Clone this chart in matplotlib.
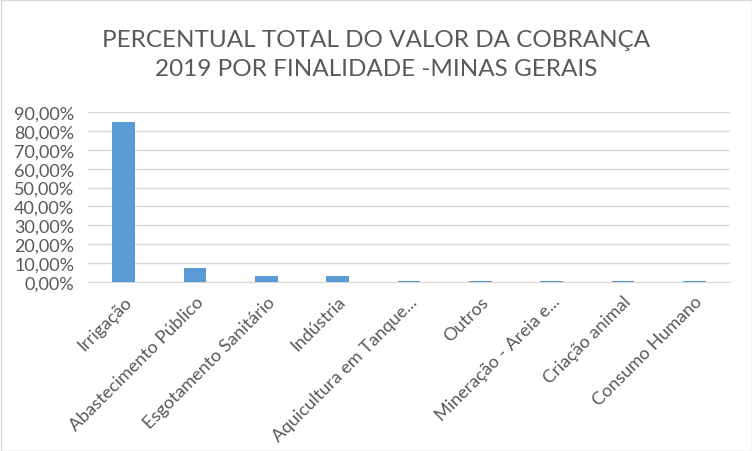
import matplotlib.pyplot as plt
from matplotlib.patches import Rectangle
from matplotlib.ticker import FuncFormatter

# --- Data ---
categorias = ["Irrigação", "Abastecimento Público", "Esgotamento Sanitário",
              "Indústria", "Aquicultura em Tanque...", "Outros",
              "Mineração - Areia e...", "Criação animal", "Consumo Humano"]
percentuais = [84.7, 7.4, 3.2, 3.2, 0.3, 0.3, 0.3, 0.3, 0.3]
y_ticks = [0, 10, 20, 30, 40, 50, 60, 70, 80, 90]

titulo = "PERCENTUAL TOTAL DO VALOR DA COBRANÇA\n2019 POR FINALIDADE -MINAS GERAIS"

cinza = "#595959"
plt.rcParams['font.family'] = ['Lato', 'DejaVu Sans']

fig = plt.figure(figsize=(7.52, 4.52), dpi=100)
ax = fig.add_axes([88 / 752, 1 - 283 / 452, (730 - 88) / 752, (283 - 113) / 452])

x = range(len(categorias))
ax.bar(x, percentuais, width=0.32, color="#5b9bd5", zorder=3)

ax.set_xlim(-0.5, len(categorias) - 0.5)
ax.set_ylim(0, 90)
ax.set_yticks(y_ticks)
ax.yaxis.set_major_formatter(FuncFormatter(lambda v, p: f"{v:.2f}%".replace(".", ",")))
ax.grid(axis="y", color="#d9d9d9", linewidth=1, zorder=0)

for s in ["top", "right", "left"]:
    ax.spines[s].set_visible(False)
ax.spines["bottom"].set_color("#d9d9d9")

ax.tick_params(axis="both", length=0, colors=cinza)
ax.tick_params(axis="y", pad=10, labelsize=13)
ax.set_xticks(list(x))
ax.set_xticklabels(categorias, rotation=45, ha="right", rotation_mode="anchor")
ax.tick_params(axis="x", pad=8, labelsize=13)

fig.text(0.5, 1 - 55 / 452, titulo, ha="center", va="center", fontsize=17.5,
         color=cinza, linespacing=1.5)

fig.patches.append(Rectangle((0.5 / 752, 0.5 / 452), 1 - 1 / 752, 1 - 1 / 452,
                             transform=fig.transFigure, fill=False,
                             edgecolor="#d9d9d9", linewidth=1))

fig.savefig("out.png", dpi=100)
